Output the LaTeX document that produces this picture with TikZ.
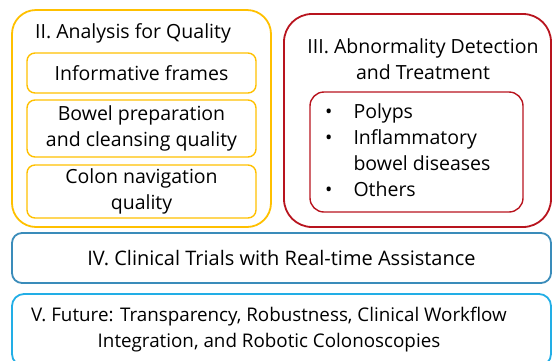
\documentclass[tikz,border=0pt]{standalone}
\usepackage{fontspec}
\setmainfont{Open Sans}
\usetikzlibrary{positioning}
\definecolor{qualgold}{HTML}{FFC000}
\definecolor{detred}{HTML}{B8141E}
\definecolor{trialblue}{HTML}{3A8CBA}
\definecolor{futureblue}{HTML}{22AEE6}

\begin{document}
\begin{tikzpicture}[
  x=1pt, y=-1pt,
  font=\fontsize{19.5}{26}\selectfont,
  box/.style={rounded corners=8pt, align=center, inner sep=0pt},
  outer/.style={box, line width=1.8pt},
  inner/.style={box, line width=1.4pt},
  quality/.style={inner, draw=qualgold, minimum width=229pt},
  title/.style={align=center, inner sep=0pt}
]
\useasboundingbox (0,0) rectangle (552,360);
\clip (0,0) rectangle (552,360);

% II. quality block
\node[outer, draw=qualgold, rounded corners=24pt, minimum width=259pt, minimum height=217pt]
  (quality) at (141.5,118.5) {};
\node[title] (qualtitle) at (133,33) {II. Analysis for Quality};
\node[quality, minimum height=40pt] (frames) at (141.5,73) {Informative frames};
\node[quality, minimum height=57pt] (bowel) at (141.5,128.5) {Bowel preparation\\and cleansing quality};
\node[quality, minimum height=53pt] (navig) at (141.5,191.5) {Colon navigation\\quality};

% III. detection block
\node[outer, draw=detred, rounded corners=28pt, minimum width=267pt, minimum height=213pt]
  (detect) at (417.5,120.5) {};
\node[title] (dettitle) at (423,59) {III. Abnormality Detection\\and Treatment};
\node[inner, draw=detred, rounded corners=14pt, minimum width=213pt, minimum height=120pt]
  (lesions) at (416.5,152) {};
\node[title, anchor=north west, align=left] (lesionlist) at (325,100)
  {\begin{tabular}{@{}l@{\hspace{21pt}}l@{}}
   \textbullet & Polyps\\
   \textbullet & Inflammatory\\
               & bowel diseases\\
   \textbullet & Others
   \end{tabular}};

% IV. and V.
\node[outer, draw=trialblue, rounded corners=10pt, minimum width=539pt, minimum height=50pt]
  (trials) at (281.5,258) {\fontsize{20}{26}\selectfont IV. Clinical Trials with Real-time Assistance};
\node[outer, draw=futureblue, rounded corners=12pt, minimum width=539pt, minimum height=72pt]
  (future) at (281.5,330) {};
\node[title, font=\fontsize{18.8}{26}\selectfont] (futuretext) at (269,330)
  {V. Future: Transparency, Robustness, Clinical Workflow\\Integration, and Robotic Colonoscopies};

\end{tikzpicture}
\end{document}
